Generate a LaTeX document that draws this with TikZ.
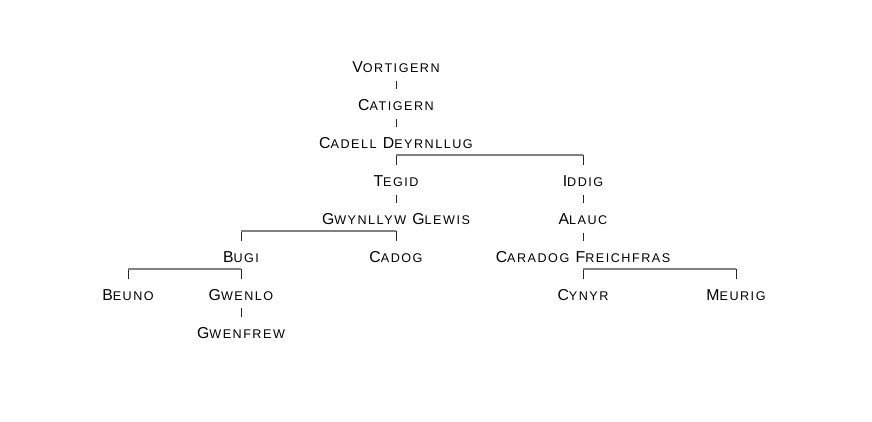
\documentclass[tikz,border=0pt]{standalone}
\usepackage{fontspec}
\newfontfamily\treefont[LetterSpace=12]{Liberation Sans}
\usetikzlibrary{calc}

\newcommand\lc[1]{{\fontsize{12.6}{14}\selectfont #1}}

\tikzset{
  person/.style={anchor=base, font=\treefont\fontsize{15.8}{18}\selectfont,
    text height=13pt, text depth=0pt, inner xsep=0pt, inner ysep=8pt},
  tick/.style={draw=black!85, line width=0.9pt},
  hbar/.style={draw=gray, line width=1.8pt}
}

\begin{document}
\begin{tikzpicture}[x=1pt, y=-1pt]
      \useasboundingbox (0, 0) rectangle (872, 422);

      \node[person] (vortigern) at (396, 72.7) {V\lc{ORTIGERN}};
      \node[person] (catigern) at (396, 110.6) {C\lc{ATIGERN}};
      \node[person] (cadell) at (396, 148.5) {C\lc{ADELL} D\lc{EYRNLLUG}};
      \node[person] (tegid) at (396, 186.4) {T\lc{EGID}};
      \node[person] (iddig) at (583, 186.4) {I\lc{DDIG}};
      \node[person] (gwynllyw) at (396, 224.3) {G\lc{WYNLLYW} G\lc{LEWIS}};
      \node[person] (alauc) at (583, 224.3) {A\lc{LAUC}};
      \node[person] (bugi) at (241, 262.2) {B\lc{UGI}};
      \node[person] (cadog) at (396, 262.2) {C\lc{ADOG}};
      \node[person] (caradog) at (583, 262.2) {C\lc{ARADOG} F\lc{REICHFRAS}};
      \node[person] (beuno) at (128, 300.1) {B\lc{EUNO}};
      \node[person] (gwenlo) at (241, 300.1) {G\lc{WENLO}};
      \node[person] (cynyr) at (583, 300.1) {C\lc{YNYR}};
      \node[person] (meurig) at (736, 300.1) {M\lc{EURIG}};
      \node[person] (gwenfrew) at (241, 338) {G\lc{WENFREW}};

      % single lines
      \draw[tick] (vortigern) -- (catigern);
      \draw[tick] (catigern) -- (cadell);
      \draw[tick] (tegid) -- (gwynllyw);
      \draw[tick] (iddig) -- (alauc);
      \draw[tick] (alauc) -- (caradog);
      \draw[tick] (gwenlo) -- (gwenfrew);

      % branches
      \foreach \a/\b in {tegid/iddig, bugi/cadog, beuno/gwenlo, cynyr/meurig} {
        \draw[tick] (\a.north) -- ++(0, -10);
        \draw[tick] (\b.north) -- ++(0, -10);
        \draw[hbar] ($(\a.north)+(0, -10)$) -- ($(\b.north)+(0, -10)$);
      }

\end{tikzpicture}
\end{document}
